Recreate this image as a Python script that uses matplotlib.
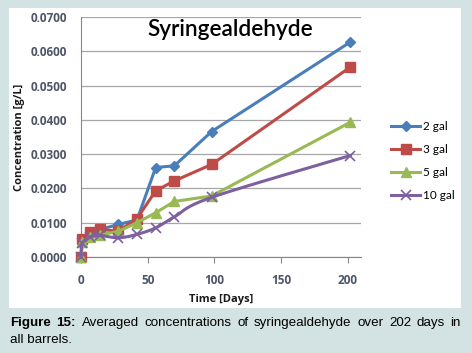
import matplotlib
matplotlib.use("Agg")
import matplotlib.pyplot as plt
import numpy as np
from matplotlib.patches import Rectangle

# sampling days and averaged concentrations [g/L]
days = [0, 1, 7, 14, 28, 42, 56, 70, 98, 202]
gal_2 = [0.0000, 0.0048, 0.0072, 0.0080, 0.0095, 0.0108, 0.0261, 0.0266, 0.0366, 0.0627]
gal_3 = [0.0000, 0.0052, 0.0074, 0.0081, 0.0075, 0.0112, 0.0193, 0.0222, 0.0270, 0.0554]
gal_5 = [0.0000, 0.0044, 0.0058, 0.0064, 0.0075, 0.0100, 0.0129, 0.0162, 0.0178, 0.0393]
gal_10 = [0.0000, 0.0040, 0.0058, 0.0063, 0.0056, 0.0066, 0.0085, 0.0117, 0.0174, 0.0296]
series_labels = ["2 gal", "3 gal", "5 gal", "10 gal"]
y_ticks = [0.0, 0.01, 0.02, 0.03, 0.04, 0.05, 0.06, 0.07]
x_ticks = [0, 50, 100, 150, 200]
caption_line1 = ["Figure", "15:", "Averaged", "concentrations", "of", "syringealdehyde",
                 "over", "202", "days", "in"]
caption_line2 = "all barrels."


def smooth(x, y, n=20):
    # Catmull-Rom curve through the points, like Excel's "smoothed line"
    x = np.asarray(x, float)
    y = np.asarray(y, float)
    px = np.concatenate([[x[0]], x, [x[-1]]])
    py = np.concatenate([[y[0]], y, [y[-1]]])
    xs, ys = [], []
    for i in range(1, len(px) - 2):
        t = np.linspace(0, 1, n, endpoint=False)
        for arr, out in ((px, xs), (py, ys)):
            p0, p1, p2, p3 = arr[i - 1], arr[i], arr[i + 1], arr[i + 2]
            out.extend(0.5 * ((2 * p1) + (-p0 + p2) * t + (2 * p0 - 5 * p1 + 4 * p2 - p3) * t ** 2
                              + (-p0 + 3 * p1 - 3 * p2 + p3) * t ** 3))
    xs.append(x[-1])
    ys.append(y[-1])
    return np.array(xs), np.array(ys)


fig = plt.figure(figsize=(4.72, 3.53), dpi=100)
fig.patch.set_facecolor("#d3e2e2")
fig.patches.append(Rectangle((9 / 472, 1 - 308 / 353), 452 / 472, 300 / 353,
                             transform=fig.transFigure, facecolor="white", edgecolor="none", zorder=-10))

ax = fig.add_axes([81 / 472, 1 - 257 / 353, 280 / 472, 240 / 353])
ax.set_facecolor("none")

styles = [
    ("#4a7ebb", "D", 5.5),
    ("#be4b48", "s", 6.5),
    ("#98b954", "^", 7),
    ("#7d60a0", "x", 7),
]
all_series = [gal_2, gal_3, gal_5, gal_10]
for values, label, (color, marker, ms) in zip(all_series, series_labels, styles):
    if label == "10 gal":
        sx, sy = smooth(days, values)
        ax.plot(sx, sy, color=color, lw=2.2, zorder=3, clip_on=False)
        ax.plot(days, values, color=color, lw=0, marker=marker, ms=ms, mew=1.2, zorder=4, clip_on=False)
        ax.plot([], [], color=color, lw=2.2, marker=marker, ms=ms, mew=1.2, label=label)
    else:
        ax.plot(days, values, color=color, lw=2.2, marker=marker, ms=ms, label=label,
                zorder=3, clip_on=False)

ax.set_xlim(0, 210)
ax.set_ylim(0, 0.07)
ax.set_yticks(y_ticks)
ax.set_yticklabels([f"{v:.4f}" for v in y_ticks])
ax.set_xticks(x_ticks)
ax.grid(axis="y", color="#a6a6a6", linewidth=0.9)
ax.set_axisbelow(True)
for side in ["top", "right"]:
    ax.spines[side].set_visible(False)
ax.spines["left"].set_color("#868686")
ax.spines["bottom"].set_color("#868686")
ax.tick_params(axis="y", length=0, pad=10)
ax.tick_params(axis="x", direction="out", length=4, color="#868686", pad=8)
for lbl in ax.get_xticklabels() + ax.get_yticklabels():
    lbl.set_fontsize(8.5)
    lbl.set_fontweight("bold")
    lbl.set_color("#4d5666")
    lbl.set_family("Open Sans")

ax.set_xlabel("Time [Days]", fontsize=8, fontweight="bold", family="Open Sans", labelpad=5, color="#1a1a1a")
ax.set_ylabel("Concentration [g/L]", fontsize=8, fontweight="bold", family="Open Sans", labelpad=4, color="#1a1a1a")

fig.text(230 / 472, 1 - 30 / 353, "Syringealdehyde", ha="center", va="center",
         fontsize=16.3, family="Lato", fontweight="semibold", color="black")

ax.legend(loc="center left", bbox_to_anchor=(1.107, 0.40), frameon=False, borderpad=0, borderaxespad=0,
          prop={"family": "Lato", "size": 8.5}, handlelength=2.5, handletextpad=0.2, labelspacing=1.0)

# justified first caption line
cap_y1 = 1 - 323 / 353
cap_y2 = 1 - 340 / 353
renderer = fig.canvas.get_renderer()
word_artists = []
for i, word in enumerate(caption_line1):
    t = fig.text(0, cap_y1, word, ha="left", va="center", fontsize=9.6, family="Liberation Sans",
                 fontweight="bold" if i < 2 else "normal")
    word_artists.append(t)
widths = [t.get_window_extent(renderer).width for t in word_artists]
left_px, right_px = 10, 461
gap = (right_px - left_px - sum(widths)) / (len(widths) - 1)
x = left_px
for t, w in zip(word_artists, widths):
    t.set_x(x / 472)
    x += w + gap
fig.text(10 / 472, cap_y2, caption_line2, ha="left", va="center", fontsize=9.6, family="Liberation Sans")

fig.savefig("out.png", dpi=100, facecolor=fig.get_facecolor())
